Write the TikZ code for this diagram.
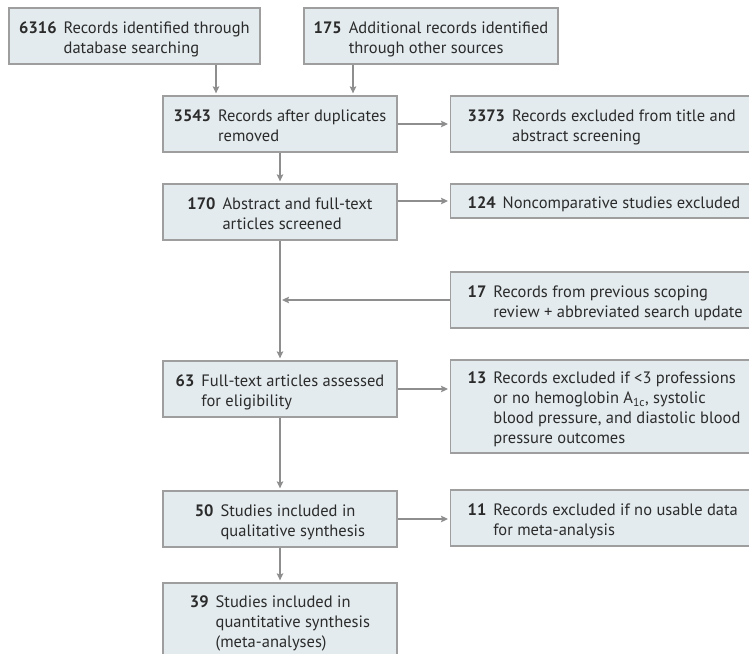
\documentclass[tikz,border=0pt]{standalone}
\usepackage{fontspec}
\setmainfont{PT Sans}
\usetikzlibrary{arrows.meta}
\definecolor{boxfill}{HTML}{E3EBEE}
\definecolor{boxline}{HTML}{9E9E9E}
\definecolor{arrowc}{HTML}{8E8E8E}
\definecolor{txt}{HTML}{2B2B2B}
\newcommand{\recentry}[2]{\raisebox{-3pt}[\height][\depth]{\begin{tabular}{@{}l@{\hspace{7pt}}l@{}}\textbf{#1} & #2\end{tabular}}}
\tikzset{
  box/.style={draw=boxline, line width=1.3pt, fill=boxfill, text=txt, inner ysep=0pt, inner xsep=0pt,
    font=\fontsize{16.5}{20}\selectfont},
  lbox/.style={box, minimum width=234pt},
  rbox/.style={box, anchor=west, inner xsep=17pt},
  arr/.style={draw=arrowc, line width=1.2pt, -{Stealth[length=7pt,width=6.5pt,inset=1.2pt]}, shorten >=2pt},
  ln/.style={draw=arrowc, line width=1.2pt}
}
\begin{document}
\begin{tikzpicture}[x=1pt,y=-1pt]
\useasboundingbox (0,0) rectangle (749,653);
\clip (0,0) rectangle (749,653);
% top boxes
\node[box, minimum width=251pt, minimum height=56pt] (b1) at (134.5,36)
  {\recentry{6316}{Records identified through\\ & database searching}};
\node[box, minimum width=254pt, minimum height=56pt] (b2) at (431,36)
  {\recentry{175}{Additional records identified\\ & through other sources}};
% left column
\node[lbox, minimum height=56pt] (b3) at (280,124)
  {\recentry{3543}{Records after duplicates\\ & removed}};
\node[lbox, minimum height=56pt] (b170) at (280,212)
  {\recentry{170}{Abstract and full-text\\ & articles screened}};
\node[lbox, minimum height=56pt] (b63) at (280,389)
  {\recentry{63}{Full-text articles assessed\\ & for eligibility}};
\node[lbox, minimum height=56pt] (b50) at (280,519)
  {\recentry{50}{Studies included in\\ & qualitative synthesis}};
\node[lbox, minimum height=75pt] (b39) at (280,620.5)
  {\recentry{39}{Studies included in\\ & quantitative synthesis\\ & (meta-analyses)}};
% right column
\node[rbox, minimum height=56pt] (b3373) at (450,124)
  {\makebox[300pt][l]{\recentry{3373}{Records excluded from title and\\ & abstract screening}}};
\node[rbox, minimum height=34pt] (b124) at (450,201)
  {\makebox[300pt][l]{\recentry{124}{Noncomparative studies excluded}}};
\node[rbox, minimum height=56pt] (b17) at (450,300)
  {\makebox[300pt][l]{\recentry{17}{Records from previous scoping\\ & review + abbreviated search update}}};
\node[rbox, minimum height=93pt] (b13) at (450,406.5)
  {\makebox[300pt][l]{\recentry{13}{Records excluded if <3 professions\\ & or no hemoglobin A\textsubscript{1c}, systolic\\ & blood pressure, and diastolic blood\\ & pressure outcomes}}};
\node[rbox, minimum height=56pt] (b11) at (450,518)
  {\makebox[300pt][l]{\recentry{11}{Records excluded if no usable data\\ & for meta-analysis}}};
% helper coordinates
\coordinate (c1) at (216,0);
\coordinate (c2) at (353,0);
% connectors
\draw[arr] (b1.south -| c1) -- (b3.north -| c1);
\draw[arr] (b2.south -| c2) -- (b3.north -| c2);
\draw[arr] (b3.east) -- (b3373.west);
\draw[arr] (b3.south) -- (b170.north);
\draw[arr] (b170.east |- b124.west) -- (b124.west);
\draw[arr] (b170.south) -- (b63.north);
\draw[arr] (b17.west) -- (b17.west -| b170.south);
\draw[arr] (b63.east) -- (b63.east -| b13.west);
\draw[arr] (b63.south) -- (b50.north);
\draw[arr] (b50.east) -- (b50.east -| b11.west);
\draw[arr] (b50.south) -- (b39.north);
\end{tikzpicture}
\end{document}
